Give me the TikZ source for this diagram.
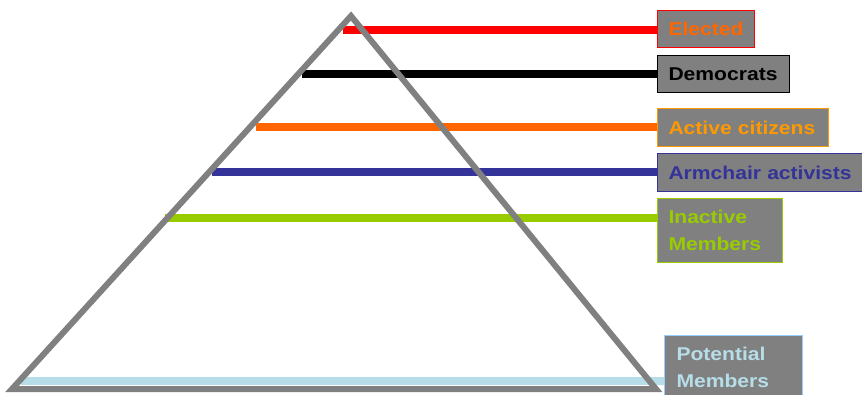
\documentclass[tikz,border=0pt]{standalone}
\usepackage{fontspec}
\newfontfamily\tagfont[FakeStretch=1.14]{Liberation Sans}
\usepackage{xcolor}
\definecolor{pyrgray}{RGB}{128, 128, 128}
\definecolor{boxgray}{RGB}{128, 128, 128}
\definecolor{elecred}{RGB}{255,   0,   0}
\definecolor{electext}{RGB}{255, 102,   0}
\definecolor{actline}{RGB}{255, 102,   0}
\definecolor{acttext}{RGB}{255, 153,   0}
\definecolor{armblue}{RGB}{ 51,  51, 153}
\definecolor{inactgreen}{RGB}{153, 204,   0}
\definecolor{potblue}{RGB}{183, 222, 232}
\definecolor{potframe}{RGB}{153, 204, 255}
\usepackage{tikz}
\usetikzlibrary{positioning, calc}
\tikzset{
  tierbox/.style={fill=boxgray, line width=1pt, anchor=north west,
    inner xsep=11pt, inner ysep=0pt, align=left,
    font=\tagfont\bfseries\fontsize{18.5}{27}\selectfont},
  tierline/.style={line width=8pt},
  pyramid/.style={draw=pyrgray, line width=6pt}
}

\begin{document}
\begin{tikzpicture}[x=1pt, y=-1pt]

  \useasboundingbox (0,0) rectangle (862,394);

  % Labels on the right
  \node[tierbox, draw=elecred,   text=electext,   text width=75,  minimum height=37] (elected)   at (657,10)  {Elected};
  \node[tierbox, draw=black,     text=black,      text width=110, minimum height=37] (democrats) at (657,55)  {Democrats};
  \node[tierbox, draw=acttext,   text=acttext,    text width=149, minimum height=38] (active)    at (657,108) {Active citizens};
  \node[tierbox, draw=armblue,   text=armblue,    text width=183, minimum height=38] (armchair)  at (657,153) {\mbox{Armchair activists}};
  \node[tierbox, draw=inactgreen,text=inactgreen, text width=103, minimum height=64] (inactive)  at (657,198) {Inactive\\Members};
  \node[tierbox, draw=potframe,  text=potblue,    text width=114, minimum height=64, inner xsep=12pt] (potential) at (664,335) {Potential\\Members};

  % Start points on the left edge
  \coordinate (t1) at (343,30);
  \coordinate (t2) at (302,74);
  \coordinate (t3) at (256,127);
  \coordinate (t4) at (212,172);
  \coordinate (t5) at (165,218);
  \coordinate (t6) at (21,381);

  % Tier lines
  \draw[tierline, elecred]    (t1) -- (t1 -| elected.west);
  \draw[tierline, black]      (t2) -- (t2 -| democrats.west);
  \draw[tierline, actline]    (t3) -- (t3 -| active.west);
  \draw[tierline, armblue]    (t4) -- (t4 -| armchair.west);
  \draw[tierline, inactgreen] (t5) -- (t5 -| inactive.west);
  \draw[tierline, potblue]    (t6) -- (t6 -| potential.west);

  % Pyramid
  \coordinate (apex) at (351,16);
  \coordinate (bl)   at (12,389);
  \coordinate (br)   at (656,389);
  \draw[pyramid] (apex) -- (br) -- (bl) -- cycle;

\end{tikzpicture}
\end{document}
